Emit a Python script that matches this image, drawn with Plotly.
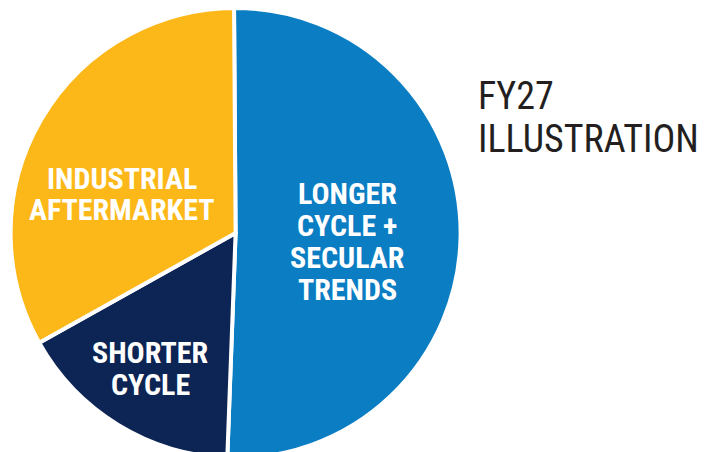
import plotly.graph_objects as go

# Data
categories = ["LONGER CYCLE + SECULAR TRENDS", "SHORTER CYCLE", "INDUSTRIAL AFTERMARKET"]
shares = [50.7, 16.3, 33.0]
label_lines = [["LONGER", "CYCLE +", "SECULAR", "TRENDS"], ["SHORTER", "CYCLE"], ["INDUSTRIAL", "AFTERMARKET"]]
title_lines = ["FY27", "ILLUSTRATION"]

colors = ["#0B7DC3", "#0C2554", "#FCB718"]
W, H = 710, 452
cx, cy = 227.6, 225.0   # pie centre within the figure (page adds an 8px body margin)
Rp = 225.0

fig = go.Figure()
fig.add_trace(go.Pie(
    labels=categories, values=shares, sort=False, direction="clockwise", rotation=-0.4,
    marker=dict(colors=colors, line=dict(color="white", width=4)),
    textinfo="none", showlegend=False,
    domain=dict(x=[(cx - Rp - 1) / W, (cx + Rp + 1) / W],
                y=[1 - (cy + Rp) / H, 1 - (cy - Rp) / H]),
))

font_bold = "Roboto Condensed, DejaVu Sans Condensed, sans-serif"
# label block centres (pixels) and line spacing
label_pos = [(339, 233), (142, 360), (113.5, 186)]
spacing = 32
annotations = []
for lines, (lx, ly) in zip(label_lines, label_pos):
    n = len(lines)
    for i, t in enumerate(lines):
        yy = ly + (i - (n - 1) / 2) * spacing
        annotations.append(dict(
            x=lx / W, y=1 - yy / H, xref="paper", yref="paper", text="<b>" + t + "</b>",
            showarrow=False, xanchor="center", yanchor="middle",
            font=dict(family=font_bold, size=30, color="white")))

for i, t in enumerate(title_lines):
    yy = 88 + i * 43
    annotations.append(dict(
        x=468 / W, y=1 - yy / H, xref="paper", yref="paper", text=t,
        showarrow=False, xanchor="left", yanchor="middle",
        font=dict(family=font_bold, size=38, color="#231F20")))

fig.update_layout(width=W, height=H, margin=dict(l=0, r=0, t=0, b=0),
                  paper_bgcolor="white", plot_bgcolor="white", annotations=annotations)
fig.write_html("out.html")
